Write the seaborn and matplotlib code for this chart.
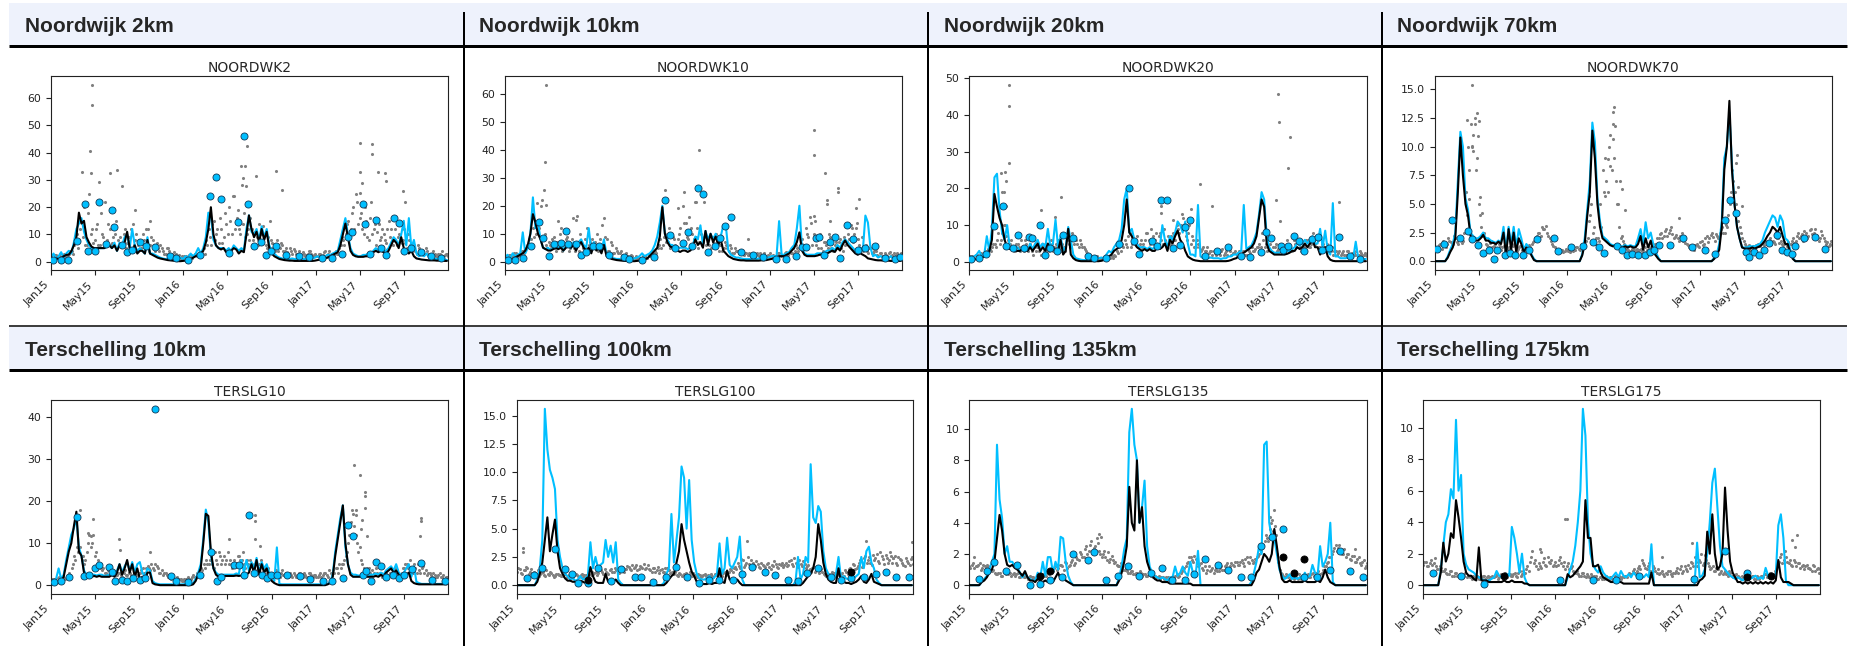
import numpy as np
import pandas as pd
import matplotlib
matplotlib.use("Agg")
import matplotlib.pyplot as plt
import matplotlib.dates as mdates
from matplotlib.patches import Rectangle
import seaborn as sns

# ---------------------------------------------------------------------------
# Station series, Jan 2015 - Dec 2017
#   *_run_a   : model run A (black line), weekly values from 2015-01-01
#   *_run_b   : model run B (blue line), weekly values from 2015-01-01
#   *_sat     : satellite retrievals (grey dots), weekly values from 2015-01-02
#   *_sat2    : satellite retrievals (grey dots), weekly values from 2015-01-05
#   *_sat_hi  : extra satellite retrievals, (day since 2015-01-01, value)
#   *_insitu  : in-situ samples (blue dots), (day since 2015-01-01, value)
#   *_flag    : in-situ samples below detection (black dots)
# ---------------------------------------------------------------------------

nw2_run_a = [1.0, 0.8, 1.2, 1.0, 1.5, 2.0, 2.5, 2.6, 3.8, 6,
             9, 18, 14, 15, 9, 7, 5.5, 5, 5, 5,
             5, 5, 5.5, 6, 5, 6, 4, 6, 5, 7,
             11, 5, 4, 6, 3, 4, 4, 3, 8, 3,
             2.5, 2, 1.5, 1.2, 1, 0.8, 0.6, 0.5, 0.4, 0.3,
             0.2, 0.2, 0.3, 0.4, 0.6, 1, 1.5, 2, 2.5, 3,
             4, 7, 12, 20, 10, 6, 5, 4.5, 5, 3.5,
             4, 4, 5, 4.5, 3, 4, 3.5, 10, 17, 12,
             9, 11, 7, 12, 8, 11, 5, 3, 2, 1.5,
             1, 0.8, 0.6, 0.5, 0.4, 0.4, 0.3, 0.3, 0.3, 0.3,
             0.3, 0.3, 0.3, 0.3, 0.4, 0.6, 0.8, 1, 1.2, 1.5,
             2, 2.5, 3, 3.5, 6, 10, 14, 9, 4, 2.5,
             2, 1.8, 1.8, 1.8, 2, 2, 2.5, 3.5, 4, 3.5,
             4, 3.5, 3, 4, 6, 8, 7, 5, 9, 5,
             4, 3, 4, 2, 1.2, 1, 0.8, 0.7, 0.6, 0.5,
             0.5, 0.5, 0.4, 0.4, 0.4, 0.3, 0.3]
nw2_run_b = [1.5, 3, 1, 2, 3.5, 1.5, 3, 4, 3, 7,
             12, 14, 16, 11, 8, 6, 5, 5, 4.5, 5,
             5, 5, 5.5, 6, 5, 7, 4, 7, 6, 9,
             10, 5, 12, 6, 4, 5, 4, 3, 9, 3,
             3, 2.5, 2, 1.5, 1.2, 1, 1, 0.8, 0.8, 1,
             1, 1.5, 1, 2, 1.5, 3, 2, 3, 5, 3,
             5, 9, 18, 17, 8, 6, 5, 5, 5, 4,
             5, 4, 6, 5, 4, 5, 4, 12, 17, 11,
             10, 12, 8, 13, 9, 12, 6, 4, 3, 2,
             1.5, 1.2, 1, 1, 1, 1.2, 1, 1, 1.2, 1,
             1, 1.2, 1.5, 1.2, 1.5, 2, 1.5, 2, 2, 2.5,
             2.5, 3, 3.5, 4, 8, 12, 16, 10, 5, 3,
             2.5, 2, 2, 2.5, 2.5, 3, 3, 4, 5, 4,
             5, 4, 4, 5, 7, 9, 8, 6, 10, 15,
             6, 16, 5, 8, 3, 2, 2.5, 2, 3, 1.5,
             1.5, 1, 1, 1, 0.8, 0.8, 0.6]
nw2_sat = [2, 1.5, 2.5, 2, 1.5, 3, 2, 3, 4,
           6, 10, 8, 15, 20, 6, 25, 12,
           8, 14, 6, 10, 22, 8, 12, 7, 10,
           5, 9, 6, 12, 7, 5, 14, 8, 6,
           7, 10, 5, 12, 6, 8, 4, 5, 6,
           4, 3, 5, 3, 2.5, 3, 2, 1.5,
           1.5, 2, 1, 2.5, 2, 3, 2, 3, 5,
           8, 12, 6, 15, 10, 7, 12, 9, 14,
           20, 10, 24, 16, 12, 28, 18, 10, 8,
           12, 6, 9, 14, 7, 10, 5, 15,
           7, 4, 8, 5, 6, 4, 3.5, 5, 3,
           4, 3, 2.5, 3.5, 2, 3, 4, 2, 3,
           2, 3, 2.5, 4, 3, 2, 3, 4, 3,
           6, 8, 10, 15, 12, 20, 25, 14,
           18, 10, 15, 8, 22, 12, 6, 14, 9,
           10, 7, 15, 12, 8, 6, 10, 7,
           12, 5, 8, 4, 6, 3, 5, 4, 3,
           4, 3, 2.5, 3, 2, 3, 4, 2.5, 3]
nw2_sat2 = [1.5, 2.5, 2, 3, 2.5, 2, 2.5, 4, 3,
            8, 5, 12, 9, 6, 18, 10, 7,
            12, 6, 18, 9, 7, 14, 6, 9, 15,
            8, 6, 10, 5, 9, 12, 6, 10, 8,
            5, 8, 12, 4, 9, 6, 7, 4, 5,
            3, 5, 4, 2.5, 3.5, 2, 2.5, 2,
            2, 1.5, 2.5, 1.5, 3, 2, 2.5, 4, 3,
            6, 9, 14, 8, 12, 16, 7, 18, 10,
            15, 24, 12, 19, 10, 14, 9, 12, 16,
            8, 11, 6, 10, 13, 6, 9, 8,
            5, 6, 4, 7, 4, 5, 3, 4, 4.5,
            3, 4, 2, 3, 2.5, 4, 3, 2.5, 2,
            3, 2, 3.5, 2.5, 4, 3, 2.5, 3, 5,
            9, 6, 14, 10, 18, 12, 22, 16,
            12, 20, 9, 16, 10, 14, 11, 8, 12,
            8, 12, 9, 6, 12, 9, 14, 8,
            7, 10, 6, 5, 4, 6, 3, 4, 5,
            3, 2.5, 4, 2, 3, 2.5, 2, 3, 2]
nw2_sat_hi = [(112, 64.9), (112, 57.6), (108, 40.5), (85, 33.1), (111, 32.5),
              (133, 29.1), (163, 32.4), (181, 33.7), (196, 27.6), (233, 19.1),
              (272, 14.8), (540, 42.3), (525, 35.3), (535, 35.3), (530, 30.7),
              (537, 27.6), (565, 31.3), (621, 33.4), (636, 26.4), (852, 43.5),
              (884, 43.3), (886, 39.6), (853, 33), (901, 33), (922, 32.5),
              (925, 29.5), (971, 25.8), (976, 21.8), (857, 28.9), (852, 25.2)]
nw2_insitu = [(6, 0.7), (28, 0.7), (48, 0.7), (71, 7.5), (95, 21), (103, 3.8),
              (121, 3.8), (133, 22), (153, 6.6), (167, 19), (175, 12.6), (195, 6),
              (209, 3.5), (224, 4.4), (245, 7.2), (261, 5.6), (286, 5.3), (328, 2),
              (344, 1.2), (378, 0.7), (411, 2.6), (439, 24), (455, 31), (468, 23),
              (490, 3.2), (516, 14.5), (531, 46), (544, 21), (560, 5.6), (579, 7.2),
              (593, 2.3), (608, 3.8), (620, 5.7), (649, 2.3), (684, 2), (712, 1.8),
              (748, 1.3), (775, 1.3), (803, 3), (818, 8.9), (830, 11), (860, 21),
              (866, 13.9), (879, 2.7), (896, 15.4), (909, 4.9), (923, 2.6), (945, 16.1),
              (960, 14.2), (974, 3.9), (992, 5.1), (1021, 3.5), (1049, 2.2), (1077, 1.3)]
nw2_flag = []

nw10_run_a = [0.5, 0.5, 0.8, 1, 1.5, 2, 2.5, 3, 4, 6,
              10, 17, 14, 10, 8, 5, 4.5, 4, 4, 4.5,
              5, 4.5, 5, 4, 5, 5.5, 5, 6, 4, 6,
              7, 5, 4, 5, 3, 6, 4, 5, 3, 6,
              2, 1.5, 1, 0.8, 0.6, 0.5, 0.4, 0.3, 0.3, 0.2,
              0.2, 0.2, 0.3, 0.4, 0.6, 0.8, 1.2, 2, 3, 4,
              5, 9, 19.5, 10, 7, 5.5, 5, 4.5, 4, 3.5,
              4, 4, 3.5, 4, 5, 8, 6, 7, 5, 11,
              6, 10, 7, 9, 6, 8, 4, 3, 2, 1.5,
              1, 0.8, 0.6, 0.5, 0.5, 0.4, 0.4, 0.4, 0.4, 0.4,
              0.4, 0.5, 0.5, 0.6, 0.8, 1, 1.2, 1.5, 2, 2,
              2, 2.5, 3, 4, 5, 7, 10.5, 4, 2.5, 2,
              2, 2, 2, 2.2, 2.5, 2.5, 3, 3, 3.5, 4,
              3.5, 5, 4, 6, 7.6, 6, 5, 4, 3, 2.5,
              3, 2.5, 2, 1.2, 1, 0.8, 0.6, 0.5, 0.5, 0.4,
              0.4, 0.4, 0.3, 0.3, 0.3, 0.3, 0.3]
nw10_run_b = [1.5, 2.5, 1, 3, 2, 2.5, 3, 10.5, 3, 5,
              10, 23, 12, 14, 8, 5, 4.5, 5, 4, 5,
              5, 5, 6, 4, 6, 6, 5, 7, 5, 7,
              8, 6, 5, 12, 4, 7, 5, 6, 4, 8,
              2.5, 2, 1.5, 1.2, 1, 1, 0.8, 0.8, 1, 1,
              1, 1.2, 1.5, 2, 3, 2, 2.5, 3, 4, 6,
              9, 14, 20, 10, 8, 6, 6, 5, 5, 5,
              5, 5, 4.5, 5, 6, 9, 8, 13, 6, 11,
              8, 10, 8, 10, 7, 9, 13, 13, 4, 2.5,
              2, 1.5, 1.5, 1.2, 1, 1, 1, 1, 1.2, 1,
              1.2, 1, 1.5, 1.5, 1.5, 2, 2, 2, 14.5, 2.5,
              2.5, 3, 3.5, 5, 6, 12, 20, 5, 3, 2.5,
              2.5, 2.5, 2.5, 3, 3, 3, 3.5, 4, 4, 5,
              4, 6, 5, 7, 8, 7, 6, 5, 4, 3.5,
              5, 4, 16.5, 14, 5, 2, 2.5, 1.5, 2, 1.5,
              1.5, 1.2, 2, 1, 1, 0.8, 1.2]
nw10_sat = [2, 1.5, 2.5, 2, 3, 2, 3, 4, 5,
            6, 8, 12, 10, 15, 20, 8, 6,
            7, 5, 9, 4, 6, 12, 5, 8, 4,
            6, 5, 15, 4, 7, 5, 12, 6, 8,
            5, 10, 6, 13, 5, 8, 4, 6, 3,
            4, 3, 2, 2.5, 2, 1.5, 2, 1.5,
            1, 1.5, 1, 2, 1.5, 2, 3, 4, 5,
            8, 6, 10, 7, 5, 9, 6, 8, 12,
            20, 14, 8, 12, 6, 9, 5, 10, 7,
            6, 8, 5, 7, 10, 4, 6, 5,
            6, 4, 5, 3, 4, 3, 4, 2.5, 3,
            3, 2, 2.5, 3, 2, 2.5, 3, 2, 2,
            2, 1.5, 2, 3, 2.5, 3, 3, 4, 3,
            4, 5, 6, 8, 5, 10, 16, 6,
            8, 5, 10, 4, 7, 5, 9, 4, 6,
            5, 8, 4, 6, 10, 13, 7, 12,
            8, 5, 4, 6, 3, 5, 3, 4, 2,
            3, 2, 2.5, 3, 2, 3, 2.5, 2, 3]
nw10_sat2 = [1.5, 2.5, 1.5, 3, 2, 2.5, 4, 3, 6,
             8, 5, 9, 14, 12, 8, 10, 5,
             6, 8, 5, 7, 10, 4, 6, 9, 5,
             8, 4, 6, 10, 5, 8, 4, 7, 5,
             7, 4, 8, 5, 9, 4, 7, 3, 5,
             3, 4, 2.5, 3, 2, 2.5, 1.5, 2,
             1.5, 1, 2, 1.5, 2.5, 2, 2.5, 3, 6,
             5, 9, 7, 12, 6, 8, 5, 10, 7,
             14, 9, 16, 10, 8, 12, 7, 6, 9,
             8, 6, 9, 5, 8, 6, 4, 7,
             5, 6, 3, 5, 4, 3.5, 3, 3, 2.5,
             2.5, 3, 2, 2.5, 3, 2, 2, 2.5, 3,
             2.5, 2, 3, 2, 2.5, 3.5, 2.5, 3, 5,
             6, 4, 8, 6, 12, 9, 14, 10,
             6, 9, 5, 7, 6, 10, 5, 8, 7,
             7, 5, 9, 7, 8, 12, 10, 14,
             6, 9, 5, 4, 5, 3, 4, 2.5, 3,
             2, 3, 2, 3.5, 2.5, 2, 3, 2, 2.5]
nw10_sat_hi = [(113, 63.2), (111, 35.6), (107, 25.5), (102, 22.1), (88, 21),
               (113, 20.4), (145, 14.4), (188, 15.6), (199, 16.2), (274, 15.6),
               (440, 25.7), (493, 24.8), (478, 19.2), (535, 39.8), (523, 21.2),
               (528, 21.2), (549, 21.5), (671, 8.2), (852, 46.9), (852, 38.2),
               (882, 31.8), (889, 22.1), (888, 20.7), (919, 26.3), (919, 24.8),
               (896, 14.4), (976, 22.4), (967, 19.2), (852, 16.2), (855, 14.4)]
nw10_insitu = [(7, 0.7), (28, 0.7), (49, 1.2), (71, 5.8), (95, 14.2), (104, 8.6),
               (121, 2.1), (135, 6.4), (154, 6.8), (167, 11), (175, 6.4), (195, 6.4),
               (209, 2.4), (223, 3.5), (243, 5.8), (260, 5.8), (287, 2.5), (328, 1.7),
               (343, 1.1), (378, 0.7), (412, 1.8), (440, 22.1), (455, 9.6), (468, 4.8),
               (490, 6.7), (505, 10.6), (516, 5.6), (531, 26.2), (545, 24.2), (560, 3.6),
               (580, 5.7), (594, 8.6), (608, 12.6), (622, 16), (650, 3.5), (684, 2.5),
               (712, 1.8), (748, 1), (775, 1.1), (804, 1.9), (818, 5.4), (831, 5.4),
               (859, 8.6), (865, 9), (881, 2.4), (896, 7), (909, 9), (923, 1.5),
               (944, 13.2), (960, 8.2), (974, 4.2), (992, 4.9), (1020, 5.8), (1049, 1.5),
               (1077, 1), (1089, 1.7)]
nw10_flag = []

nw20_run_a = [0.5, 0.5, 0.6, 0.8, 1, 1.2, 1.5, 2, 3, 6,
              18.5, 15, 12, 10, 6, 4, 3.5, 3.5, 3, 3,
              3, 3.5, 3, 3, 4, 3, 4, 5, 3, 4,
              3, 5, 3, 4, 3, 3, 6, 2, 3, 9,
              2, 1, 0.5, 0.3, 0.2, 0.2, 0.2, 0.2, 0.2, 0.2,
              0.2, 0.2, 0.3, 0.5, 1, 1.5, 2, 3, 3.5, 4,
              6, 10, 17, 8, 7, 5, 4, 3.5, 3, 3.5,
              3, 3.5, 3, 3, 4, 3.5, 4, 5, 3, 6,
              5, 7, 8.5, 6, 5, 3, 1.5, 1, 0.6, 0.4,
              0.3, 0.2, 0.2, 0.2, 0.2, 0.2, 0.2, 0.2, 0.2, 0.2,
              0.2, 0.2, 0.3, 0.5, 0.8, 1, 1.5, 2, 2.5, 3,
              3.5, 4, 5, 7, 12, 17, 15, 5, 3, 2.5,
              2, 2, 2, 2, 2, 2.2, 2.5, 3, 3, 4,
              3.5, 4, 5, 4, 5, 6, 4, 4, 2, 3,
              4, 1.5, 0.6, 0.3, 0.2, 0.2, 0.2, 0.2, 0.2, 0.2,
              0.2, 0.2, 0.2, 0.2, 0.2, 0.2, 0.2]
nw20_run_b = [0.5, 1, 1.5, 2, 3, 1.5, 2, 7, 3, 9,
              23, 24, 14, 8, 6, 10, 4, 4, 3, 4,
              3, 4, 3.5, 3, 5, 3.5, 5, 6, 4, 5,
              4, 9, 4, 5, 11.5, 4, 7, 3, 4, 9.5,
              6, 2, 1, 0.8, 0.6, 0.5, 0.5, 0.5, 0.6, 0.6,
              0.8, 1, 1.2, 1, 2, 3, 2.5, 4, 5, 6,
              9, 17, 20, 8, 9, 6, 5, 4, 4, 4,
              3.5, 4, 3.5, 4, 5, 4, 10, 6, 4, 7,
              6, 8, 11, 10, 8, 11, 5, 2, 2, 1.5,
              15.5, 1.5, 1, 1, 1, 1.2, 1, 1, 1, 0.8,
              1, 1, 1.5, 1.5, 2, 2, 2.5, 3, 15.5, 3.5,
              4, 4.5, 6, 8, 13, 19, 17, 7, 4, 3,
              2.5, 2.5, 2.5, 3, 2.5, 3, 3, 3.5, 4, 5,
              4.5, 5, 6, 5, 6, 7, 5, 5, 9, 4,
              8.5, 3, 2, 16, 1.5, 1.5, 1, 1, 1, 1.2,
              1, 1, 5.5, 1, 0.8, 0.8, 0.8]
nw20_sat = [1, 1.5, 1, 2, 1.5, 2, 2.5, 3, 3.5,
            4, 5, 6, 5, 8, 10, 6, 5,
            4, 3, 5, 3, 4, 6, 3, 5, 2,
            3, 4, 2, 5, 3, 4, 6, 3, 5,
            6, 3, 4, 7, 5, 6, 5, 6, 4,
            5, 4, 3, 2, 1.5, 1, 1.5, 1,
            0.8, 1, 1.2, 1, 1.5, 2, 3, 4, 5,
            6, 4, 8, 5, 6, 7, 5, 4, 6,
            8, 5, 7, 6, 4, 8, 5, 6, 7,
            5, 8, 6, 9, 10, 12, 7, 8,
            5, 6, 4, 5, 3, 4, 3, 2.5, 3,
            3, 2, 2.5, 3, 2, 3, 3.5, 2, 2.5,
            2, 3, 2.5, 3, 2, 3, 4, 3, 4,
            5, 8, 4, 3, 5, 6, 4, 3,
            4, 5, 3, 6, 4, 3, 5, 6, 4,
            5, 3, 6, 4, 8, 5, 6, 4,
            5, 3, 4, 3, 2, 3, 2.5, 2, 3,
            2, 3, 2, 2.5, 3, 2, 2.5, 2, 2]
nw20_sat2 = [1.5, 1, 2, 1, 2.5, 1.5, 2, 3.5, 3,
             5, 4, 8, 6, 10, 7, 4, 6,
             3, 5, 4, 6, 3, 5, 4, 3, 4,
             4, 3, 5, 3, 4, 3, 5, 4, 4,
             4, 5, 3, 6, 4, 8, 6, 5, 6,
             4, 3.5, 2.5, 2, 1, 1.5, 1, 1.2,
             1, 0.8, 1.5, 1.2, 1, 1.5, 2.5, 3, 4,
             5, 7, 4, 6, 5, 4, 6, 5, 8,
             6, 9, 5, 8, 7, 6, 9, 5, 6,
             7, 6, 10, 8, 13, 9, 6, 10,
             7, 4, 6, 4, 3.5, 3, 4, 3, 2,
             2.5, 3, 2, 3.5, 2.5, 2, 3, 2.5, 3,
             2.5, 2, 3, 2, 3.5, 2.5, 3, 3.5, 4,
             4, 6, 5, 4, 6, 4, 5, 3.5,
             5, 3, 4, 5, 3, 6, 4, 5, 3,
             4, 6, 4, 5, 6, 7, 4, 5,
             4, 5, 3, 4, 3, 2, 3, 2.5, 2,
             3, 2, 2.5, 2, 2, 3, 2, 2.5, 1.5]
nw20_sat_hi = [(110, 48.2), (110, 42.5), (110, 26.9), (88, 24.3), (99, 24.5),
               (103, 22), (96, 18.9), (91, 18.9), (103, 15.1), (198, 14),
               (252, 17.8), (237, 12.2), (635, 21.1), (668, 15.2), (528, 15.2),
               (528, 13.4), (850, 45.6), (852, 38), (879, 25.5), (882, 34.1),
               (844, 16.9), (855, 11), (1019, 16.3), (612, 14.3), (562, 11.5)]
nw20_insitu = [(6, 0.8), (27, 1), (48, 2.2), (69, 9.8), (94, 15.2), (103, 4.4),
               (120, 3.8), (134, 7.2), (152, 3.8), (165, 6.8), (174, 6.4), (194, 10),
               (208, 1.9), (222, 3.9), (243, 3.1), (259, 7.4), (286, 6.6), (328, 1.6),
               (344, 1.1), (377, 1), (412, 4.8), (439, 20.1), (455, 5.8), (467, 2.2),
               (503, 5.8), (516, 4.4), (529, 16.9), (544, 16.9), (560, 3.9), (580, 4.6),
               (593, 9.5), (607, 11.4), (648, 1.5), (683, 3.1), (712, 4), (747, 1.5),
               (774, 1.3), (802, 2.8), (818, 8.1), (831, 6.5), (858, 4.4), (865, 3.3),
               (879, 4.4), (895, 7.1), (909, 5.6), (922, 3), (943, 6.2), (960, 6.7),
               (971, 3.3), (991, 3.8), (1018, 6.7), (1047, 1.6), (1075, 0.9)]
nw20_flag = []

nw70_run_a = [0, 0, 0, 0, 0, 0.3, 0.8, 1.2, 2, 6,
              10.8, 7.5, 5, 4, 2.2, 2, 1.8, 1.8, 2, 2.3,
              1.8, 1.8, 1.6, 1.6, 1.5, 1.7, 1.5, 2.5, 0.5, 2.8,
              1, 2.5, 0.8, 2, 1.5, 0.8, 1.2, 1, 0.5, 0.1,
              0, 0, 0, 0, 0, 0, 0, 0, 0, 0,
              0, 0, 0, 0, 0, 0, 0, 0, 0.5, 1.5,
              4, 6, 11.4, 9, 5, 3, 2, 1.8, 1.6, 1.4,
              1.3, 1.3, 1.3, 1.2, 1.2, 1.3, 1.2, 1.3, 1.2, 1.2,
              1.5, 2.2, 1, 2, 1.2, 1.8, 0.8, 0.5, 0.2, 0,
              0, 0, 0, 0, 0, 0, 0, 0, 0, 0,
              0, 0, 0, 0, 0, 0, 0, 0, 0, 0,
              0.2, 0.5, 1, 3, 8, 10, 14, 8, 5, 3,
              2, 1.2, 1.1, 1.1, 1.1, 1.2, 1.1, 1.2, 1.3, 1.5,
              1.8, 2.2, 2.5, 3, 2.8, 2.5, 3, 2.2, 1.5, 1.5,
              0.7, 0.2, 0, 0, 0, 0, 0, 0, 0, 0,
              0, 0, 0, 0, 0, 0, 0]
nw70_run_b = [0, 0, 0, 0, 0, 0.4, 1, 1.5, 2.5, 7,
              11.3, 10, 5.5, 4.5, 2.5, 2.2, 2, 2, 2.2, 2.5,
              2, 2, 1.8, 1.7, 1.6, 1.8, 1.6, 3, 0.8, 3,
              1.5, 3, 1.2, 2.8, 2, 1, 1.5, 1.2, 0.6, 0.2,
              0, 0, 0, 0, 0, 0, 0, 0, 0, 0,
              0, 0, 0, 0, 0, 0, 0, 0, 0.6, 2,
              4.5, 7, 12.1, 10.4, 5.5, 3.5, 2.2, 2, 1.8, 1.5,
              1.4, 1.4, 1.4, 1.3, 1.3, 1.4, 1.3, 1.4, 1.3, 1.3,
              2, 2.8, 1.5, 3.4, 2, 2.5, 1.5, 0.8, 0.3, 0,
              0, 0, 0, 0, 0, 0, 0, 0, 0, 0,
              0, 0, 0, 0, 0, 0, 0, 0, 0, 0,
              0.3, 0.6, 1.5, 3.5, 9, 10, 13, 8.5, 5, 3,
              2, 1.2, 1.2, 1.2, 1.3, 1.3, 1.3, 1.4, 1.5, 1.8,
              2.5, 3, 3.5, 4, 3.8, 3, 4, 3.5, 2, 1.8,
              1, 0.3, 0, 0, 0, 0, 0, 0, 0, 0,
              0, 0, 0, 0, 0, 0, 0]
nw70_sat = [1.2, 0.9, 1.5, 1.8, 1.2, 2, 1.7, 1.5, 2,
            1.5, 2, 1.8, 6, 10, 12, 11, 8,
            5, 3, 2.5, 1.5, 1.2, 1.8, 1.3, 1.1, 1.5,
            1, 1.3, 0.8, 1.2, 1, 1.5, 0.9, 1.2, 1,
            1.2, 1, 1.4, 1.5, 1.8, 2.2, 2.5, 3, 2.8,
            2.5, 2, 1.5, 1.2, 1, 0.8, 1, 0.9,
            1, 0.8, 1.1, 1, 1.2, 1, 1.3, 1.5, 2,
            4, 2.5, 1.5, 2, 5, 8, 9, 6, 11,
            13, 7, 5, 2, 1.8, 1.2, 1, 0.9, 1.2,
            1, 0.9, 1.1, 1, 0.8, 1.2, 1, 1.2,
            1.5, 2, 2.5, 2.2, 2.8, 2.5, 3, 2, 2.3,
            1.8, 2.5, 2, 1.5, 1.2, 1.4, 1, 1.5, 1.2,
            1.8, 1.5, 2.2, 2, 2.5, 1.8, 2.2, 2.5, 3,
            2.5, 3, 5, 8, 6, 4, 3, 2,
            1.5, 1.2, 1, 1.3, 1.2, 1.5, 1.3, 1.6, 1.8,
            1.5, 2, 1.8, 1.5, 2, 1.8, 1.4, 1.5,
            1.7, 1.5, 2, 1.8, 2.5, 2.2, 1.8, 2.5, 2.2,
            2.8, 2.5, 2, 1.8, 2.6, 2, 1.5, 1.3, 1.8]
nw70_sat2 = [1, 1.4, 1.1, 1.6, 1.5, 1.8, 1.4, 2.2, 1.7,
             2, 1.6, 2.5, 4, 8, 10, 12, 9,
             4, 2.2, 2, 1.4, 1.6, 1.2, 1.5, 1, 1.3,
             1.2, 0.9, 1.1, 1, 1.3, 0.8, 1.1, 1.3, 1.1,
             1, 1.3, 1.2, 1.7, 2, 2.5, 2.2, 2.8, 3.1,
             2.2, 1.8, 1.3, 1.1, 0.9, 1, 0.8, 1.1,
             0.9, 1, 0.9, 1.2, 1.1, 1.4, 1.2, 1.8, 3.5,
             5, 3, 2, 1.8, 3, 6, 7, 10, 8,
             9, 5, 3, 2.2, 1.5, 1.1, 0.9, 1.1, 1,
             1.1, 1, 0.9, 1.2, 1, 1.1, 1.3, 1.5,
             2, 2.4, 2, 2.6, 2.2, 2.7, 2.4, 2.1, 2,
             2.2, 1.8, 1.6, 1.4, 1.3, 1.1, 1.4, 1.3, 1.7,
             1.4, 2, 1.7, 2.3, 2.1, 2.4, 2, 2.8, 2.5,
             3.2, 4, 6, 7, 5, 3.5, 2.5, 1.8,
             1.3, 1.4, 1.2, 1.1, 1.4, 1.3, 1.5, 1.4, 1.7,
             1.8, 1.6, 1.7, 2, 1.6, 1.5, 1.7, 1.3,
             1.5, 1.8, 1.6, 2.2, 2, 2.4, 2.6, 2, 2.7,
             2.4, 2.8, 2.2, 2, 2.3, 1.8, 1.7, 1.5, 1.4]
nw70_sat_hi = [(103, 15.4), (115, 12.9), (110, 12.5), (87, 12.3), (120, 12.2),
               (118, 10.9), (103, 10.1), (106, 9.6), (95, 5.4), (124, 5.6),
               (131, 4.2), (495, 13.5), (490, 12), (497, 11.8), (490, 10.7),
               (478, 8.9), (484, 8.3), (511, 7), (515, 6.3), (469, 5.7),
               (523, 4.5), (425, 5.7), (833, 9.3), (830, 8.6), (837, 6.5),
               (847, 4.8), (672, 3.8)]
nw70_insitu = [(6, 1.1), (26, 1.5), (46, 3.6), (68, 2), (92, 2.6), (103, 1.9),
               (119, 1.4), (133, 0.7), (150, 1), (164, 0.2), (172, 1), (192, 0.5),
               (207, 0.7), (221, 0.5), (242, 0.5), (258, 1), (282, 1.9), (327, 2),
               (340, 0.9), (375, 1.2), (409, 1.3), (437, 1.7), (452, 1.2), (465, 0.7),
               (501, 1.3), (515, 1), (529, 0.5), (543, 0.6), (561, 0.5), (578, 0.5),
               (592, 0.8), (605, 1), (619, 1.4), (647, 1.4), (683, 2), (710, 1.2),
               (745, 1), (773, 0.6), (800, 3.6), (815, 5.3), (830, 4.2), (858, 0.8),
               (865, 0.4), (879, 0.8), (894, 0.5), (908, 1), (920, 1.6), (943, 2.3),
               (957, 1), (971, 0.8), (985, 0.6), (992, 1.3), (1019, 2), (1049, 2.1),
               (1077, 1.1)]
nw70_flag = []

ts10_run_a = [0.2, 0.3, 0.5, 0.5, 1, 2, 5, 8, 10, 14,
              17.5, 8, 7, 3, 2.2, 2, 2, 2.2, 2, 2.2,
              2, 2, 2, 2, 2.5, 2, 3, 5, 2.5, 4,
              6, 3, 5, 2, 4, 1.5, 2, 1, 3, 3,
              0.5, 0.2, 0.1, 0, 0, 0, 0, 0, 0, 0,
              0, 0, 0, 0, 0, 0, 0.2, 1, 2.5, 4,
              10, 17, 16.5, 8, 4, 2.5, 2, 2.2, 2.2, 2.2,
              2.2, 2.2, 2.2, 2.3, 2.2, 2.3, 2.4, 2.5, 3, 5,
              3, 6, 2.5, 5, 3, 4, 2, 1, 0.5, 0.2,
              0, 0, 0, 0, 0, 0, 0, 0, 0, 0,
              0, 0, 0, 0, 0, 0, 0, 0, 0, 0.2,
              0.5, 2, 7, 11, 15, 19, 10, 5, 2.5, 2,
              2, 2, 2, 2, 2, 2, 2, 2, 2.2, 2,
              2.5, 2, 3, 3.5, 4, 3, 3.5, 2.5, 2, 2,
              2.5, 3, 1, 0.5, 0.3, 0.2, 0.2, 0.2, 0.2, 0.2,
              0.2, 0.2, 0.2, 0.2, 0.2, 0.2, 0.2]
ts10_run_b = [0.3, 0.5, 1.5, 4, 1.5, 2.5, 6, 9, 12, 13.5,
              16, 9, 7, 3.5, 2.5, 2.5, 2.5, 2.5, 2.3, 2.5,
              2.5, 2.2, 2.3, 2.5, 3, 2.5, 3.5, 5, 3, 4.5,
              5.5, 3.5, 5.5, 3, 5, 5.5, 3, 2, 4, 3.5,
              1, 0.5, 0.3, 0.2, 0.2, 0.2, 0.2, 0.2, 0.2, 0.2,
              0.2, 0.2, 0.2, 0.3, 0.3, 0.3, 0.5, 1.5, 3, 5,
              11, 18, 15, 7, 4, 3, 2.5, 2.5, 2.5, 2.5,
              2.5, 2.5, 2.5, 2.8, 2.6, 6, 3, 6, 3.5, 5.5,
              4, 6.5, 3, 5.5, 4, 5, 3, 2, 1, 9,
              0.3, 0.2, 0.2, 0.2, 0.2, 0.2, 0.2, 0.2, 0.2, 0.2,
              0.2, 0.2, 0.2, 0.2, 0.2, 0.2, 0.2, 0.2, 0.2, 0.3,
              0.8, 2.5, 8, 12, 16, 19, 9, 5, 3, 2.5,
              2.5, 2.3, 2.3, 2.3, 2.5, 2.3, 2.5, 2.5, 2.8, 2.5,
              3, 2.5, 3.5, 4, 4.5, 3.5, 5, 3, 2.5, 3,
              4, 5, 2, 4.5, 0.8, 0.5, 0.3, 0.3, 0.3, 0.3,
              0.3, 0.3, 0.3, 0.3, 0.3, 0.3, 0.3]
ts10_sat = [1, 1.5, 1, 2, 1.2, 1.8, 2, 3, 4,
            7, 9, 8, 6, 5, 8, 12, 10,
            7, 5, 4, 3.5, 3, 2.5, 3, 2.5, 3,
            2.5, 3, 2, 3.5, 2.5, 3, 2, 3, 2.5,
            3, 4, 3, 4.5, 3.5, 4, 5, 4, 3,
            2.5, 3, 2, 1.5, 2, 1.5, 1, 1.5,
            1, 1.5, 2, 1.5, 2.5, 2, 3, 4, 5,
            6, 5, 7, 4, 6, 8, 5, 7, 6,
            5, 4, 6, 5, 7, 6, 5, 6, 4,
            5, 4, 3.5, 5, 3, 4, 3, 2.5,
            3, 2.5, 3, 2, 3.5, 2.5, 2, 3, 2,
            2.5, 2, 3, 2, 2.5, 2, 3, 2, 2.5,
            2, 3, 2.5, 3, 2, 3, 3.5, 4, 3,
            4, 5, 7, 10, 15, 17, 12, 8,
            6, 4, 3, 4, 2.5, 3, 4, 2.5, 3,
            2, 3, 2.5, 3, 2, 3.5, 2.5, 3,
            4, 5, 3, 4, 5, 3, 3.5, 4, 3,
            2.5, 3, 2, 2.5, 2, 3, 2, 1.5, 2]
ts10_sat2 = [1.5, 1, 1.8, 1.4, 2, 1.5, 2.5, 2.5, 5,
             6, 8, 9, 7, 6, 10, 9, 12,
             8, 6, 5, 4, 3, 3.5, 2.5, 3, 2.5,
             3, 2.5, 3, 2.5, 3, 2.5, 3.5, 2.5, 3,
             3.5, 3, 4, 4, 5, 3.5, 4.5, 3, 3.5,
             3, 2.5, 2.5, 2, 1.5, 2, 1.5, 1,
             1.5, 1, 1.5, 2, 2, 3, 2.5, 3.5, 4,
             5, 6, 5, 8, 5, 7, 6, 5, 8,
             6, 5, 5, 7, 6, 8, 4, 5, 6,
             4, 5, 4, 6, 4, 3.5, 4, 3,
             2.5, 3.5, 2.5, 3, 2.5, 3, 2, 2.5, 3,
             2, 3, 2.5, 3, 2, 3, 2.5, 2.5, 2,
             2.5, 2, 3, 2.5, 3.5, 2.5, 3, 4, 5,
             5, 6, 8, 12, 18, 14, 10, 9,
             5, 3.5, 4, 3, 3.5, 2.5, 3, 3, 2,
             3, 2, 3, 2.5, 4, 3, 2.5, 4,
             5, 4, 6, 3, 4, 5, 3, 4.5, 3.5,
             3, 2.5, 3, 2, 2.5, 2, 2.5, 2, 1.5]
ts10_sat_hi = [(80, 18), (115, 15.8), (103, 12.5), (109, 11.7), (187, 10.9),
               (190, 8.3), (273, 7.9), (491, 11.1), (562, 15.2), (562, 16.8),
               (562, 10.9), (576, 9.3), (836, 28.7), (852, 26.3), (867, 22.1),
               (867, 21.2), (865, 18.3), (859, 15.6), (854, 13.3), (871, 11.7),
               (1020, 16), (1020, 15.2), (1019, 11.7), (842, 18), (840, 16.8)]
ts10_insitu = [(8, 0.8), (28, 1), (51, 2), (71, 16.3), (92, 2.3), (106, 2.5),
               (120, 4.1), (133, 4.9), (161, 4.4), (169, 3.1), (176, 1), (197, 1.3),
               (210, 0.9), (225, 1.6), (245, 1.2), (259, 1.7), (288, 42), (330, 2.1),
               (344, 1), (378, 0.8), (412, 2.5), (440, 7.9), (457, 1), (470, 1.9),
               (505, 4.7), (518, 4.7), (533, 2.4), (546, 16.6), (560, 2.9), (581, 2.5),
               (596, 1.6), (608, 2.4), (622, 2.5), (651, 2.5), (686, 2.1), (714, 1.5),
               (749, 1), (776, 1), (806, 1.8), (818, 14.3), (833, 11.7), (861, 2.5),
               (868, 3.3), (882, 0.9), (896, 5.6), (909, 4.5), (923, 1.9), (943, 2.5),
               (959, 1.7), (973, 2.5), (995, 3.9), (1021, 5.2), (1051, 1.3), (1086, 0.9)]
ts10_flag = []

ts100_run_a = [0, 0, 0, 0, 0, 0, 0, 0, 0.3, 1,
               2, 4, 6, 3, 4.5, 5.8, 3, 1.5, 1, 0.6,
               0.4, 0.4, 0.3, 0.3, 0.3, 0.4, 0.3, 0.2, 0.3, 1.6,
               0.8, 0.3, 0.2, 0.2, 0.2, 1, 0.3, 0.2, 0.3, 0.5,
               0.2, 0, 0, 0, 0, 0, 0, 0, 0, 0,
               0, 0, 0, 0, 0, 0, 0, 0, 0, 0.2,
               0.5, 0.8, 1, 2, 3, 5.4, 4, 3, 2, 1.2,
               0.8, 0.3, 0.2, 0.1, 0.1, 0.1, 0.2, 0.1, 0.2, 0.2,
               1.5, 0.3, 0.2, 1.3, 0.5, 0.4, 0.3, 0.5, 0.2, 0,
               0, 0, 0, 0, 0, 0, 0, 0, 0, 0,
               0, 0, 0, 0, 0, 0, 0, 0, 0, 0,
               0, 0, 0, 0.2, 0.5, 0.8, 1, 1.5, 2.5, 5.4,
               4, 2, 1, 0.5, 0.3, 0.2, 0.2, 1.5, 0.2, 0.3,
               0.2, 0.2, 0.1, 0.2, 0.3, 0.5, 0.8, 0.3, 0.2, 0.5,
               1, 0.3, 0.2, 0.1, 0, 0, 0, 0, 0, 0,
               0, 0, 0, 0, 0, 0, 0]
ts100_run_b = [0, 0, 0, 0, 0, 0, 0, 0, 0.5, 1.5,
               4, 15.6, 12, 10.2, 9.5, 8.5, 4, 2.5, 1.5, 1,
               0.8, 0.5, 0.6, 0.4, 0.5, 0.8, 0.5, 0.6, 0.8, 3.8,
               1.5, 2.5, 1.5, 1.8, 2, 4, 2.5, 3.5, 2, 3.8,
               0.5, 0.2, 0, 0, 0, 0, 0, 0, 0, 0,
               0, 0, 0, 0, 0, 0, 0, 0, 0.2, 1,
               1.5, 6.3, 2, 4, 6, 10.5, 9.5, 5, 9.3, 4,
               2, 1, 0.6, 0.5, 0.5, 0.6, 0.8, 0.5, 0.7, 1,
               3.7, 1, 1.5, 4.2, 1.8, 1.5, 2, 2.5, 4.3, 0.5,
               0, 0, 0, 0, 0, 0, 0, 0, 0, 0,
               0, 0, 0, 0, 0, 0, 0, 0, 0, 0,
               0.3, 2.5, 0.5, 1, 2.5, 2, 10.7, 6, 5.5, 7,
               6.5, 3, 1.5, 1, 0.8, 0.5, 1, 2.5, 0.6, 0.8,
               0.6, 0.5, 0.5, 0.6, 0.8, 1, 2.5, 1.5, 3, 3.4,
               2, 1.5, 0.5, 0.2, 0, 0, 0, 0, 0, 0,
               0, 0, 0, 0, 0, 0, 0]
ts100_sat = [1.2, 1.4, 1, 1.3, 1.5, 1.2, 0.9, 1.1, 1.3,
             1, 1.2, 0.8, 1, 1.2, 0.9, 0.8, 1,
             0.9, 0.8, 1, 0.8, 0.9, 0.7, 1, 0.8, 0.9,
             0.7, 0.9, 1.1, 0.9, 1, 1.2, 1.1, 1.3, 1,
             1.2, 1, 1.4, 1.2, 1.3, 1.1, 1.5, 1.2, 1.4,
             1.6, 1.3, 1.5, 1.8, 1.4, 1.6, 1.9, 1.5,
             1.4, 1.2, 1.5, 1.3, 1.1, 1.4, 1.2, 1.5, 1.3,
             1.2, 1, 0.9, 1.1, 0.8, 1, 0.9, 1.2, 0.8,
             0.9, 0.7, 0.9, 0.8, 1, 0.7, 0.9, 0.8, 1,
             0.9, 1, 0.8, 1.2, 1, 1.4, 1.2, 1.6,
             2, 1.5, 2.2, 1.8, 2.5, 1.6, 2, 1.7, 1.9,
             1.5, 1.8, 1.6, 2, 1.4, 1.7, 1.9, 1.5, 1.8,
             1.6, 2, 1.8, 2.2, 1.7, 2, 1.6, 1.9, 2.1,
             1.5, 1.8, 1.2, 1.6, 1.3, 1.1, 1.4, 1,
             0.8, 1, 0.9, 1.1, 0.7, 0.9, 1, 0.8, 1.2,
             1.4, 1.2, 1.8, 1.5, 2, 1.6, 2.4, 2,
             2.5, 1.8, 2.2, 2.8, 2, 2.6, 1.9, 2.4, 2.2,
             2, 2.6, 1.8, 2.3, 2, 1.7, 2.1, 1.8, 2.5]
ts100_sat2 = [1.5, 1.1, 1.3, 1.6, 1, 1.4, 1.2, 1, 0.8,
              1.1, 0.9, 1.3, 0.9, 1.1, 0.7, 1, 0.9,
              0.8, 1, 0.7, 0.9, 0.8, 1, 0.9, 0.7, 1,
              0.9, 0.8, 1, 1.2, 1.1, 0.9, 1.3, 1.2, 1.4,
              1.1, 1.3, 1.2, 1.5, 1.4, 1.3, 1.6, 1.4, 1.7,
              1.4, 1.8, 1.6, 1.3, 1.7, 1.5, 1.4, 1.8,
              1.3, 1.5, 1.2, 1.6, 1.3, 1.2, 1.5, 1.3, 1.1,
              1, 1.2, 0.8, 1, 0.9, 1.1, 0.8, 1, 1.1,
              0.8, 1, 0.7, 0.9, 0.8, 0.9, 1, 0.7, 0.9,
              1, 0.8, 1.1, 0.9, 1.2, 1.3, 1.5, 1.4,
              1.7, 2.3, 1.6, 2, 1.9, 2.2, 1.8, 2.1, 1.6,
              2, 1.7, 1.9, 1.6, 1.8, 2.1, 1.6, 1.9, 2,
              1.8, 1.7, 2.1, 1.9, 2.4, 1.8, 2.2, 1.7, 1.9,
              1.7, 1.4, 1.5, 1.2, 1.5, 1.3, 1.2, 0.9,
              1, 0.8, 1.2, 0.9, 1, 0.8, 1.1, 1.3, 1,
              1.5, 1.9, 1.4, 1.7, 2.2, 1.8, 2.6, 2.2,
              2, 2.7, 2.4, 2.1, 2.9, 2.3, 2.7, 2, 2.6,
              2.4, 2, 2.5, 2.2, 1.8, 2.4, 2, 2.3, 1.9]
ts100_sat_hi = [(17, 3.3), (17, 2.9), (637, 3.9), (966, 3.9), (1092, 3.8),
                (1031, 2.9), (1040, 2.4)]
ts100_insitu = [(28, 0.6), (48, 0.9), (69, 1.5), (104, 3.2), (132, 1.4), (153, 1),
                (168, 0.2), (196, 0.2), (223, 1.5), (259, 0.4), (288, 1.4), (327, 0.7),
                (342, 0.7), (377, 0.3), (412, 0.7), (440, 1.6), (469, 0.7), (504, 0.2),
                (532, 0.5), (559, 0.5), (596, 0.5), (623, 1), (651, 1.6), (685, 1.2),
                (713, 0.9), (750, 0.5), (777, 0.4), (803, 1.1), (833, 1.5), (868, 0.7),
                (895, 0.5), (924, 0.6), (959, 0.7), (994, 1), (1021, 1.2), (1049, 0.7),
                (1084, 0.7)]
ts100_flag = [(196, 0.5), (924, 1.2)]

ts135_run_a = [0, 0, 0, 0, 0, 0.2, 0.3, 0.5, 0.8, 1,
               1.5, 3, 4.5, 3.5, 2, 1.3, 1.2, 1.3, 1.1, 1,
               0.8, 0.6, 0.9, 0.5, 0.3, 0.3, 0.2, 0.4, 0.3, 0.2,
               0.3, 0.2, 0.3, 0.2, 0.5, 0.8, 0.4, 0.6, 0.3, 0.2,
               0.1, 0, 0, 0, 0, 0, 0, 0, 0, 0,
               0, 0, 0, 0, 0, 0, 0, 0, 0, 0.3,
               0.8, 1.5, 2.5, 6.3, 4, 3.5, 8, 4, 5, 2.5,
               1.5, 1, 0.6, 0.4, 0.3, 0.3, 0.2, 0.2, 0.2, 0.1,
               0.1, 0.1, 0.1, 0.1, 0.1, 0.1, 0.1, 0.1, 0, 0,
               0, 0, 0, 0, 0, 0, 0, 0, 0, 0,
               0, 0, 0, 0, 0, 0, 0, 0, 0, 0,
               0, 0, 0.3, 0.8, 1, 1.5, 2, 1.8, 1.5, 2,
               3.6, 2.5, 1.2, 0.4, 0.2, 0.2, 0.3, 0.2, 0.2, 0.2,
               0.2, 0.2, 0.3, 0.2, 0.2, 0.2, 0.2, 0.3, 0.2, 0.5,
               1, 0.5, 0.2, 0.1, 0, 0, 0, 0, 0, 0,
               0, 0, 0, 0, 0, 0, 0]
ts135_run_b = [0, 0, 0, 0, 0, 0.2, 0.4, 0.6, 1, 1.5,
               2, 9, 5.5, 4.3, 2, 2.5, 1.5, 1.5, 1.2, 1.2,
               0.8, 0.5, 0.8, 0.5, 0.4, 0.3, 0.3, 0.8, 0.5, 1.5,
               0.6, 1.8, 1.8, 0.8, 1.5, 1, 3.1, 3, 1.5, 0.6,
               0.2, 0, 0, 0, 0, 0, 0, 0, 0, 0,
               0, 0, 0, 0, 0, 0, 0, 0, 0, 0.5,
               1.2, 2.3, 3, 9.8, 11.3, 9, 8, 4, 5, 6.7,
               2.5, 1.2, 0.8, 0.6, 0.5, 0.4, 0.5, 0.4, 0.3, 0.5,
               0.5, 1.2, 0.6, 0.8, 1.2, 0.8, 0.6, 1.5, 0.8, 0.5,
               2.2, 0, 0, 0, 0, 0, 0, 0, 0, 0,
               0, 0, 0, 0, 0, 0, 0, 0, 0, 0,
               0, 0.2, 0.8, 1.5, 2.5, 2, 9, 9.2, 4, 3,
               3, 2, 1, 0.6, 0.4, 0.5, 0.7, 0.4, 0.5, 0.4,
               0.5, 0.4, 0.8, 0.5, 0.6, 1.3, 0.8, 0.6, 2.5, 1.2,
               1.5, 2, 4, 0.2, 0, 0, 0, 0, 0, 0,
               0, 0, 0, 0, 0, 0, 0]
ts135_sat = [1.2, 1.3, 1.1, 1.2, 1.4, 1.1, 1.2, 1.3, 1,
             0.9, 0.8, 0.7, 0.8, 0.6, 0.9, 0.7, 0.8,
             0.7, 0.6, 0.8, 0.5, 0.6, 0.5, 0.4, 0.6, 0.5,
             0.4, 0.6, 0.5, 0.7, 0.6, 0.8, 1, 0.9, 1.2,
             1.1, 1.3, 1, 1.4, 1.2, 1.5, 1.3, 1.8, 1.6,
             2, 1.8, 2.5, 2.2, 2.8, 2.4, 3, 2.2,
             1.8, 2.2, 1.6, 1.5, 1.9, 1.4, 1.3, 1.2, 1.1,
             1, 0.9, 0.8, 0.9, 0.7, 0.8, 0.9, 0.6, 0.7,
             0.6, 0.8, 0.5, 0.6, 0.5, 0.4, 0.5, 0.4, 0.5,
             0.4, 0.5, 0.6, 0.5, 0.8, 1, 1.2, 1.5,
             1.8, 1.5, 1.7, 1.2, 1.4, 1, 0.8, 1.2, 1,
             0.8, 1.1, 0.9, 1.2, 1, 1.3, 1.1, 1.4, 1.2,
             1.5, 1.3, 1.6, 1.2, 1.8, 1.4, 1.6, 1.5, 1.8,
             2, 2.4, 2.8, 3, 3.6, 4.2, 3.8, 2,
             1, 0.7, 0.5, 0.6, 0.4, 0.5, 0.6, 0.4, 0.5,
             0.6, 0.4, 0.7, 0.5, 0.8, 0.6, 0.9, 0.7,
             1, 1.2, 1.5, 1.8, 2.2, 2.6, 2.4, 2.2, 2,
             1.8, 2, 1.6, 1.9, 1.5, 1.8, 1.3, 1.6, 1.2]
ts135_sat2 = [1.1, 1.4, 1.2, 1.3, 1, 1.3, 1.1, 1.2, 0.9,
              1, 0.7, 0.8, 0.6, 0.9, 0.7, 0.8, 0.6,
              0.8, 0.7, 0.5, 0.7, 0.5, 0.6, 0.5, 0.5, 0.4,
              0.5, 0.5, 0.7, 0.6, 0.8, 0.7, 0.9, 1.1, 1,
              1.3, 1.2, 1.5, 1.1, 1.3, 1.6, 1.4, 1.7, 2.1,
              1.8, 2.3, 2, 2.6, 2.1, 2.5, 2.7, 2,
              2, 1.8, 2.1, 1.7, 1.6, 1.5, 1.2, 1.4, 1,
              1.1, 0.8, 0.9, 0.7, 0.8, 0.6, 0.8, 0.7, 0.6,
              0.7, 0.6, 0.6, 0.5, 0.6, 0.5, 0.4, 0.5, 0.4,
              0.5, 0.4, 0.7, 0.6, 0.9, 1.1, 1.4, 1.8,
              1.6, 1.9, 1.4, 1.3, 1.1, 1.2, 1, 0.9, 1.1,
              1, 0.9, 1.1, 1, 1.2, 1.4, 1.2, 1.3, 1.5,
              1.3, 1.5, 1.4, 1.7, 1.5, 1.8, 1.4, 1.7, 1.9,
              2.2, 2.6, 3.2, 2.8, 4, 3.5, 3.2, 1.5,
              0.8, 0.6, 0.7, 0.5, 0.6, 0.4, 0.5, 0.7, 0.4,
              0.5, 0.6, 0.5, 0.7, 0.6, 0.8, 0.6, 0.8,
              1.2, 1.4, 1.8, 2, 2.4, 2.2, 2.6, 2, 2.3,
              2, 1.7, 1.9, 1.5, 1.7, 1.4, 1.5, 1.1, 1.4]
ts135_sat_hi = [(357, 3.3), (363, 3.1), (838, 4.8), (829, 4.4), (1061, 2.3), (15, 1.8)]
ts135_insitu = [(28, 0.4), (49, 0.9), (69, 1.5), (103, 0.9), (132, 1.3), (168, 0),
                (195, 0.1), (224, 0.3), (257, 0.5), (287, 2), (327, 1.6), (343, 2.1),
                (378, 0.3), (411, 0.6), (438, 1.2), (468, 0.6), (502, 0.8), (531, 1.1),
                (558, 0.3), (594, 0.3), (620, 0.7), (649, 1.7), (684, 1.3), (712, 1),
                (747, 0.5), (775, 0.5), (804, 2.5), (833, 3.1), (865, 3.6), (922, 0.5),
                (958, 0.5), (992, 1), (1020, 2.2), (1048, 0.9), (1083, 0.5)]
ts135_flag = [(195, 0.6), (224, 0.9), (865, 1.8), (895, 0.8), (922, 1.7)]

ts175_run_a = [0, 0, 0, 0, 0, 0, 0, 0.8, 2.7, 1.5,
               2, 3.3, 3, 5.4, 4.3, 3, 1.5, 0.8, 0.6, 0.6,
               0.4, 0.3, 2.4, 0.3, 0.3, 0.3, 0.2, 0.2, 0.2, 0.2,
               0.2, 0.2, 0.3, 0.2, 0.2, 0.3, 0.2, 0.2, 0.2, 0.2,
               0.1, 0.1, 0, 0, 0, 0, 0, 0, 0, 0,
               0, 0, 0, 0, 0, 0, 0, 0.7, 0.5, 0.6,
               0.8, 1, 1.2, 1.5, 5.4, 3, 3, 1.2, 1.2, 1.3,
               0.8, 0.5, 0.4, 0.3, 0.2, 0.2, 0.2, 0.2, 0.2, 0.1,
               0.1, 0.1, 0.1, 0.1, 0.1, 0.1, 0.1, 0.1, 0.1, 0.1,
               0.8, 0, 0, 0, 0, 0, 0, 0, 0, 0,
               0, 0, 0, 0, 0, 0, 0, 0, 0, 0.3,
               0.4, 0.6, 3.4, 2, 4.5, 2, 1, 1.2, 2, 6.2,
               3.5, 1.5, 0.8, 0.5, 0.2, 0.2, 0.1, 0.2, 0.1, 0.2,
               0.1, 0.2, 0.1, 0.2, 0.1, 0.2, 0.1, 0.2, 0.1, 0.3,
               1.6, 0.5, 0.2, 0.2, 0.2, 0.1, 0, 0, 0, 0,
               0, 0, 0, 0, 0, 0, 0]
ts175_run_b = [0, 0, 0, 0, 0, 0, 0, 1, 2.5, 4,
               4.5, 6.1, 5.5, 10.5, 6, 7, 2, 1.3, 1, 0.9,
               0.8, 0.6, 0.5, 0.4, 0.3, 0.3, 0.3, 0.4, 0.5, 0.9,
               0.6, 0.5, 0.6, 0.7, 0.6, 3.7, 3, 2, 0.8, 2,
               0.5, 0.1, 0, 0, 0, 0, 0, 0, 0, 0,
               0, 0, 0, 0, 0, 0, 0, 0.5, 1, 1.5,
               2.5, 4, 6, 11.2, 9.5, 4, 2, 1.3, 1, 0.8,
               1.2, 0.8, 0.6, 0.5, 0.4, 0.6, 0.8, 0.5, 0.9, 0.6,
               0.5, 0.7, 0.5, 0.8, 0.6, 0.5, 0.6, 0.5, 0.7, 0.5,
               2.6, 0, 0, 0, 0, 0, 0, 0, 0, 0,
               0, 0, 0, 0, 0, 0, 0, 0, 2.7, 0.5,
               0.6, 1, 2, 4, 6.5, 7.4, 5, 2.5, 1.2, 1,
               0.8, 0.6, 0.5, 0.4, 0.5, 0.4, 0.3, 0.5, 0.6, 0.4,
               0.5, 0.6, 0.4, 0.5, 0.4, 1.1, 0.6, 0.4, 0.5, 0.6,
               3.8, 4.5, 3, 0.3, 0, 0, 0, 0, 0, 0,
               0, 0, 0, 0, 0, 0, 0]
ts175_sat = [1.3, 1.5, 1.2, 1.6, 1.4, 1.2, 1, 1.1, 0.9,
             0.8, 0.7, 0.9, 0.6, 0.8, 0.5, 0.7, 0.6,
             0.5, 0.6, 0.4, 0.5, 0.6, 0.4, 0.5, 0.6, 0.5,
             0.4, 0.6, 0.5, 0.7, 0.5, 0.6, 0.8, 0.5, 0.7,
             0.6, 0.8, 0.5, 0.9, 0.7, 0.8, 1.2, 1.5, 2.2,
             1.6, 1, 1.2, 1.5, 1.3, 1.8, 1.4, 1.2,
             1.5, 1.3, 1.8, 1.2, 1, 1.4, 1.1, 0.9, 0.8,
             0.7, 0.6, 0.8, 0.5, 0.6, 0.7, 0.5, 0.6, 0.4,
             0.5, 0.4, 0.6, 0.3, 0.5, 0.4, 0.5, 0.6, 0.4,
             0.5, 0.6, 0.8, 0.7, 1, 0.9, 1.2, 1.6,
             1.3, 1, 1.4, 0.9, 1.1, 0.8, 0.7, 0.9, 0.6,
             0.7, 0.9, 0.6, 0.8, 1.1, 1, 0.8, 1.2, 0.9,
             1.1, 1.4, 1.8, 1.2, 1.5, 1.3, 1.9, 1.4, 1,
             1.2, 0.9, 1, 0.8, 0.7, 0.9, 0.6, 0.8,
             0.5, 0.7, 0.6, 0.4, 0.5, 0.6, 0.4, 0.5, 0.6,
             0.4, 0.5, 0.6, 0.5, 0.7, 0.6, 0.8, 0.7,
             1, 1.5, 2, 1.6, 1.8, 1.4, 1.3, 1.6, 1.2,
             1.4, 1.2, 1, 1.3, 1.1, 0.9, 1.2, 1, 0.8]
ts175_sat2 = [1.5, 1.2, 1.4, 1.3, 1.7, 1, 1.2, 0.9, 1,
              0.7, 0.9, 0.6, 0.8, 0.6, 0.7, 0.5, 0.8,
              0.6, 0.5, 0.6, 0.4, 0.5, 0.5, 0.6, 0.4, 0.6,
              0.5, 0.5, 0.6, 0.4, 0.7, 0.5, 0.6, 0.7, 0.6,
              0.7, 0.6, 0.8, 0.6, 0.9, 1, 0.9, 1.8, 1.4,
              1.2, 1.4, 1.1, 1.7, 1.2, 1.5, 1.6, 1.3,
              1.2, 1.6, 1.4, 1.5, 1.2, 1, 1.2, 0.8, 0.9,
              0.6, 0.8, 0.6, 0.7, 0.5, 0.6, 0.6, 0.4, 0.5,
              0.4, 0.5, 0.4, 0.5, 0.4, 0.6, 0.4, 0.5, 0.5,
              0.6, 0.5, 0.7, 0.9, 0.8, 1.1, 1, 1.4,
              1.1, 1.2, 0.9, 1.2, 0.9, 1, 0.8, 0.7, 0.8,
              0.9, 0.7, 0.8, 0.9, 0.8, 1.2, 0.9, 1, 1.3,
              1.5, 1.2, 1.5, 1.6, 2, 1.4, 1.6, 1.2, 1.1,
              0.9, 1.1, 0.7, 0.9, 0.8, 0.7, 0.9, 0.6,
              0.6, 0.5, 0.5, 0.6, 0.4, 0.5, 0.5, 0.6, 0.4,
              0.6, 0.4, 0.6, 0.7, 0.5, 0.8, 0.6, 0.9,
              1.2, 1.8, 1.4, 2.2, 1.5, 1.6, 1.2, 1.5, 1.4,
              1.1, 1.3, 1.2, 1.1, 1, 1.3, 0.9, 1.1, 1]
ts175_sat_hi = [(391, 4.2), (396, 4.2), (322, 2.3), (325, 2.1), (1031, 3.2),
                (1017, 2.9), (1026, 2.4), (743, 2.7), (660, 1.8)]
ts175_insitu = [(28, 0.8), (104, 0.6), (168, 0.1), (377, 0.3), (469, 0.3), (532, 0.3),
                (595, 0.6), (748, 0.4), (833, 2.2), (895, 0.8)]
ts175_flag = [(224, 0.6), (895, 0.5), (959, 0.6)]

headers = ["Noordwijk 2km", "Noordwijk 10km", "Noordwijk 20km", "Noordwijk 70km",
           "Terschelling 10km", "Terschelling 100km", "Terschelling 135km", "Terschelling 175km"]
stations = ["NOORDWK2", "NOORDWK10", "NOORDWK20", "NOORDWK70",
            "TERSLG10", "TERSLG100", "TERSLG135", "TERSLG175"]
series = [
    (nw2_run_a, nw2_run_b, nw2_sat, nw2_sat2, nw2_sat_hi, nw2_insitu, nw2_flag),
    (nw10_run_a, nw10_run_b, nw10_sat, nw10_sat2, nw10_sat_hi, nw10_insitu, nw10_flag),
    (nw20_run_a, nw20_run_b, nw20_sat, nw20_sat2, nw20_sat_hi, nw20_insitu, nw20_flag),
    (nw70_run_a, nw70_run_b, nw70_sat, nw70_sat2, nw70_sat_hi, nw70_insitu, nw70_flag),
    (ts10_run_a, ts10_run_b, ts10_sat, ts10_sat2, ts10_sat_hi, ts10_insitu, ts10_flag),
    (ts100_run_a, ts100_run_b, ts100_sat, ts100_sat2, ts100_sat_hi, ts100_insitu, ts100_flag),
    (ts135_run_a, ts135_run_b, ts135_sat, ts135_sat2, ts135_sat_hi, ts135_insitu, ts135_flag),
    (ts175_run_a, ts175_run_b, ts175_sat, ts175_sat2, ts175_sat_hi, ts175_insitu, ts175_flag),
]

# ---------------------------------------------------------------------------
START = pd.Timestamp("2015-01-01")
END = pd.Timestamp("2017-12-31")
BLUE = "#00BFFF"

sns.set_theme(style="ticks")
plt.rcParams["font.family"] = ["DejaVu Sans"]
plt.rcParams["axes.edgecolor"] = "#222222"
plt.rcParams["axes.linewidth"] = 0.8

W, H = 1853, 646
fig = plt.figure(figsize=(W / 100, H / 100), dpi=100)
fig.patch.set_facecolor("white")

# page furniture: header bands, rules and column separators (pixel coordinates)
bg = fig.add_axes([0, 0, 1, 1], zorder=-5)
bg.set_xlim(0, W)
bg.set_ylim(H, 0)
bg.axis("off")
PX = 0.72  # points per pixel at 100 dpi
for top, bot in [(3, 45), (327, 369)]:
    bg.add_patch(Rectangle((9, top), 1847 - 9, bot - top, facecolor="#EEF2FC", edgecolor="none"))
bg.plot([9, 1847], [46, 46], color="black", lw=3 * PX, solid_capstyle="butt")
bg.plot([9, 1847], [370, 370], color="black", lw=3 * PX, solid_capstyle="butt")
bg.plot([9, 1847], [326, 326], color="black", lw=1.5 * PX, solid_capstyle="butt")
for xv in [464, 928, 1382]:
    bg.plot([xv, xv], [12, H], color="black", lw=2 * PX, solid_capstyle="butt")

head_x = [25, 479, 944, 1397]
head_y = [26, 350]
for k, text in enumerate(headers):
    bg.text(head_x[k % 4], head_y[k // 4], text, fontsize=15, fontweight="bold",
            family=["Liberation Sans", "DejaVu Sans"], ha="left", va="center")

# axes boxes: (left, right) per panel, (top, bottom) per row, in pixels
cols = [[(51, 448), (505, 902), (969, 1367), (1435, 1832)],
        [(51, 448), (517, 913), (969, 1367), (1423, 1820)]]
rows = [(76, 270), (400, 594)]


def weekly(vals, offset=0):
    return START + pd.to_timedelta(7 * np.arange(len(vals)) + offset, unit="D")


def from_pairs(pairs):
    days = [d for d, _ in pairs]
    vals = [v for _, v in pairs]
    return START + pd.to_timedelta(days, unit="D"), vals


for k in range(8):
    run_a, run_b, sat, sat2, sat_hi, insitu, flag = series[k]
    l, r = cols[k // 4][k % 4]
    t, b = rows[k // 4]
    ax = fig.add_axes([l / W, 1 - b / H, (r - l) / W, (b - t) / H])

    hi_dates, hi_vals = from_pairs(sat_hi)
    sat_df = pd.DataFrame({
        "date": list(weekly(sat, 1)) + list(weekly(sat2, 4)) + list(hi_dates),
        "value": list(sat) + list(sat2) + list(hi_vals),
    })
    sns.scatterplot(data=sat_df, x="date", y="value", ax=ax, color="#808080",
                    s=5, linewidth=0, zorder=1)
    sns.lineplot(x=weekly(run_b), y=run_b, ax=ax, color=BLUE, lw=1.5, zorder=2)
    sns.lineplot(x=weekly(run_a), y=run_a, ax=ax, color="black", lw=1.5, zorder=3)
    if insitu:
        d, v = from_pairs(insitu)
        sns.scatterplot(x=d, y=v, ax=ax, color=BLUE, s=26, edgecolor="#123a57",
                        linewidth=0.6, zorder=4)
    if flag:
        d, v = from_pairs(flag)
        sns.scatterplot(x=d, y=v, ax=ax, color="black", s=26, edgecolor="black",
                        linewidth=0.6, zorder=5)

    ax.set_xlim(START, END)
    ax.set_xlabel("")
    ax.set_ylabel("")
    ax.set_title(stations[k], fontsize=10, pad=3)
    ax.xaxis.set_major_locator(mdates.MonthLocator(bymonth=[1, 5, 9]))
    ax.xaxis.set_major_formatter(mdates.DateFormatter("%b%y"))
    ax.tick_params(axis="both", labelsize=7.8, length=3.5, width=0.8, colors="#222222")
    for lab in ax.get_xticklabels():
        lab.set_rotation(45)
        lab.set_ha("right")
    if ax.get_legend() is not None:
        ax.get_legend().remove()

fig.savefig("out.png", dpi=100, facecolor="white")
